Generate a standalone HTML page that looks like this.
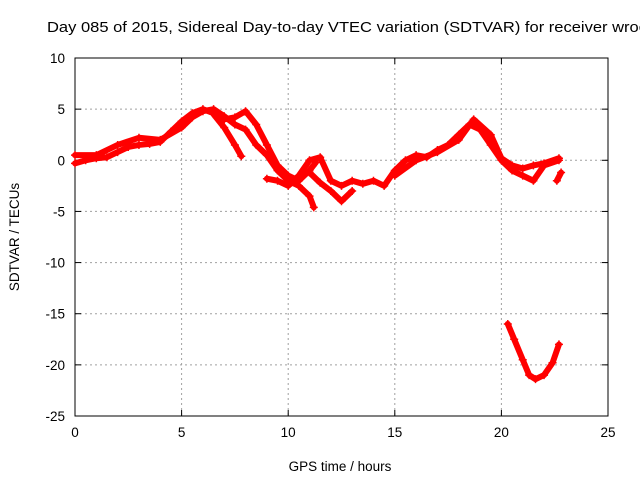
<!DOCTYPE html>
<html><head><meta charset="utf-8"><style>
body{margin:0;background:#fff}
svg{display:block;font-family:"Liberation Sans",sans-serif}
</style></head><body>
<svg id="chart" width="640" height="480" viewBox="0 0 640 480">
<rect width="640" height="480" fill="#fff"/>
<text x="47" y="32" font-size="15" textLength="600" lengthAdjust="spacingAndGlyphs">Day 085 of 2015, Sidereal Day-to-day VTEC variation (SDTVAR) for receiver wroc</text>
<g id="grid"></g>
<g id="axes"></g>
<g id="series"></g>
<text x="340" y="471" font-size="13.5" text-anchor="middle">GPS time / hours</text>
<text transform="translate(19,237) rotate(-90)" font-size="13.5" text-anchor="middle">SDTVAR / TECUs</text>
</svg>
<script>
const xTicks=[0,5,10,15,20,25];
const yTicks=[10,5,0,-5,-10,-15,-20,-25];
const s1=[[0,-0.3],[0.5,0],[1,0.2],[1.5,0.3],[2,0.8],[2.5,1.3],[3,1.5],[3.5,1.6],[4,1.8],[4.5,2.8],[5,3.8],[5.5,4.6],[6,5],[6.5,4.6],[7,4],[7.5,4.2],[8,4.8],[8.5,3.5],[9,1.5],[9.5,-0.5],[10,-1.5],[10.5,-2],[11,-1],[11.3,-0.2]];
const s2=[[0,0.5],[1,0.5],[2,1.5],[3,2.2],[4,2.0],[5,3.2],[5.5,4.2],[6,4.8],[6.5,5],[7,4.3],[7.5,3.5],[8,3],[8.5,1.5],[9,0.5],[9.5,-1],[10,-2],[10.5,-2.5],[11,-3.5],[11.2,-4.6]];
const s3=[[6.5,4.5],[7,3.2],[7.5,1.5],[7.8,0.4]];
const s4=[[9,-1.8],[9.5,-2],[10,-2.5],[10.5,-1.5],[11,0],[11.5,0.3],[12,-2],[12.5,-2.5],[13,-2],[13.5,-2.3],[14,-2],[14.5,-2.5],[15,-1],[15.5,0],[16,0.5],[16.5,0.3],[17,1],[17.5,1.5],[18,2.5],[18.5,3.5],[19,3],[19.5,1.5],[20,0],[20.5,-1],[21,-1.5],[21.5,-2],[22,-0.5],[22.7,0]];
const s5=[[15,-1.5],[16,0],[17,0.8],[18,2],[18.7,4],[19.5,2.5],[20,0.2],[20.5,-0.5],[21,-0.8],[21.5,-0.5],[22,-0.3],[22.7,0.2]];
const s6=[[22.6,-2],[22.8,-1.2]];
const s7=[[20.3,-16],[20.6,-17.5],[21,-19.5],[21.3,-21],[21.6,-21.4],[22,-21],[22.4,-19.8],[22.7,-18]];
const s8=[[11,-1.2],[11.5,-2.2],[12,-3],[12.5,-4],[13,-3]];
const allSeries=[s1,s2,s3,s4,s5,s6,s7,s8];
const X0=75,X1=608,Y0=416,Y1=58,xmin=0,xmax=25,ymin=-25,ymax=10;
const xs=v=>X0+(v-xmin)/(xmax-xmin)*(X1-X0);
const ys=v=>Y0-(v-ymin)/(ymax-ymin)*(Y0-Y1);
const NS="http://www.w3.org/2000/svg";
function mk(t,a,p){const e=document.createElementNS(NS,t);for(const k in a)e.setAttribute(k,a[k]);p.appendChild(e);return e;}
const grid=document.getElementById('grid'),axes=document.getElementById('axes'),ser=document.getElementById('series');
xTicks.forEach(t=>{const x=xs(t);
 if(t>xmin&&t<xmax){const g=mk('line',{x1:x,x2:x,y1:Y1,y2:Y0,stroke:'#a0a0a0','stroke-dasharray':'2,3'},grid);
 
 }
 mk('line',{x1:x,x2:x,y1:Y0,y2:Y0-6,stroke:'#000'},axes);
 mk('line',{x1:x,x2:x,y1:Y1,y2:Y1+6,stroke:'#000'},axes);
 const l=mk('text',{x:x,y:Y0+21,'font-size':'13.5','text-anchor':'middle'},axes);l.textContent=t;
 
 
});
yTicks.forEach(t=>{const y=ys(t);
 if(t>ymin&&t<ymax){const g=mk('line',{x1:X0,x2:X1,y1:y,y2:y,stroke:'#a0a0a0','stroke-dasharray':'2,3'},grid);
 
 }
 mk('line',{x1:X0,x2:X0+6,y1:y,y2:y,stroke:'#000'},axes);
 mk('line',{x1:X1,x2:X1-6,y1:y,y2:y,stroke:'#000'},axes);
 const l=mk('text',{x:X0-10,y:y+5,'font-size':'13.5','text-anchor':'end'},axes);l.textContent=t;
 
 
});
mk('rect',{x:X0,y:Y1,width:X1-X0,height:Y0-Y1,fill:'none',stroke:'#000'},axes);
allSeries.forEach((s,i)=>{
 const p=mk('polyline',{points:s.map(d=>xs(d[0])+','+ys(d[1])).join(' '),fill:'none',stroke:'#f00','stroke-width':6,'stroke-linejoin':'round','stroke-linecap':'round'},ser);
 
 
 s.forEach(d=>{const x=xs(d[0]),y=ys(d[1]);
  const m=mk('path',{d:`M${x-4},${y}H${x+4}M${x},${y-4}V${y+4}`,stroke:'#f00','stroke-width':1.5},ser);
  
  
 });
});
</script>
</body></html>
